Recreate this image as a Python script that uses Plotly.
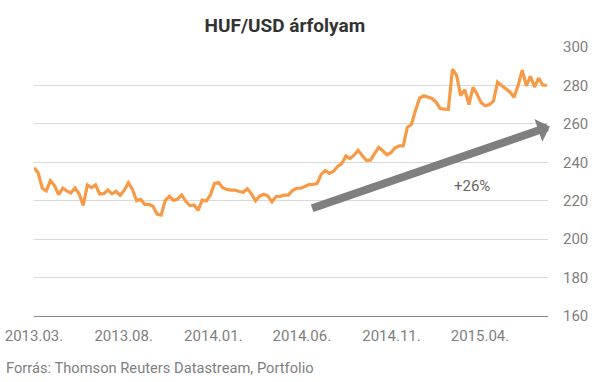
import pandas as pd
import plotly.graph_objects as go

# Weekly observations starting 2013-03-01
start_date = "2013-03-01"
rate = [
    237.2, 234.5, 226.5, 225.1, 230.5, 227.9, 223.2, 226.5, 225.1, 224.0,
    226.6, 223.5, 217.5, 228.1, 226.8, 228.2, 223.5, 223.7, 225.6, 223.6,
    224.9, 222.8, 225.5, 229.4, 225.9, 220.0, 220.7, 218.1, 218.1, 217.1,
    213.0, 212.5, 220.2, 222.3, 220.2, 220.9, 223.0, 219.7, 217.5, 217.8,
    215.0, 220.3, 219.9, 223.0, 229.0, 229.5, 226.8, 225.9, 225.5, 225.5,
    224.8, 224.4, 226.2, 223.6, 220.0, 222.4, 223.4, 222.4, 219.4, 222.2,
    222.3, 222.9, 222.9, 225.3, 226.5, 226.5, 227.4, 228.4, 228.5, 228.9,
    233.7, 235.7, 234.2, 235.3, 237.8, 239.3, 243.3, 242.0, 243.7, 246.2,
    243.5, 241.0, 241.1, 244.4, 247.8, 246.0, 243.9, 245.0, 247.5, 248.5,
    248.5, 258.2, 259.8, 267.1, 273.4, 274.6, 274.0, 273.2, 271.3, 268.0,
    267.7, 267.6, 288.5, 285.3, 274.7, 277.8, 270.0, 279.0, 275.4, 271.0,
    269.4, 270.0, 271.9, 281.8, 279.9, 278.1, 276.6, 273.8, 279.9, 288.0,
    279.8, 284.8, 279.2, 283.8, 280.2, 280.0,
]
dates = pd.date_range(start_date, periods=len(rate), freq="7D")

tick_dates = ["2013-03-01", "2013-08-01", "2014-01-01", "2014-06-01", "2014-11-01", "2015-04-01"]
tick_labels = ["2013.03.", "2013.08.", "2014.01.", "2014.06.", "2014.11.", "2015.04."]

title_text = "HUF/USD árfolyam"
source_text = "Forrás: Thomson Reuters Datastream, Portfolio"
trend_label = "+26%"
trend_start = ("2014-06-16", 215.8)
trend_end = ("2015-07-29", 258.6)
trend_label_pos = ("2015-03-18", 227.8)

FONT = "Roboto"
GRAY = "#808080"

fig = go.Figure()
fig.add_trace(go.Scatter(
    x=dates, y=rate, mode="lines",
    line=dict(color="#F79A45", width=3.2),
    hoverinfo="skip", showlegend=False,
))

fig.add_annotation(
    x=trend_end[0], y=trend_end[1], ax=trend_start[0], ay=trend_start[1],
    xref="x", yref="y", axref="x", ayref="y",
    text="", showarrow=True, arrowhead=1, arrowsize=0.5, arrowwidth=8,
    arrowcolor="#7F7F7F", standoff=0,
)
fig.add_annotation(
    x=trend_label_pos[0], y=trend_label_pos[1], xref="x", yref="y",
    text=trend_label, showarrow=False,
    font=dict(family=FONT, size=15, color="#666666"),
)
fig.add_annotation(
    x=-0.058, y=-0.1935, xref="paper", yref="paper",
    xanchor="left", yanchor="middle", text=source_text, showarrow=False,
    font=dict(family=FONT, size=14.7, color=GRAY),
)

fig.update_layout(
    width=596, height=382,
    margin=dict(l=34, r=48, t=47, b=66),
    paper_bgcolor="white", plot_bgcolor="white",
    title=dict(
        text="<b>" + title_text + "</b>", x=0.478, xanchor="center",
        y=1 - 25 / 382, yanchor="middle", yref="container",
        font=dict(family=FONT, size=19, color="#333333"),
    ),
    xaxis=dict(
        type="date", range=["2013-03-01", "2015-07-26"],
        tickmode="array", tickvals=tick_dates, ticktext=tick_labels,
        showgrid=False, zeroline=False, showline=True,
        linecolor="#898989", linewidth=1, ticks="",
        tickfont=dict(family=FONT, size=15, color=GRAY),
        ticklabelstandoff=6, automargin=False,
    ),
    yaxis=dict(
        side="right", range=[160, 300], dtick=20, tick0=160,
        showgrid=True, gridcolor="#D9D9D9", gridwidth=1,
        zeroline=False, showline=False, ticks="",
        tickfont=dict(family=FONT, size=15, color=GRAY),
        ticklabelstandoff=14, automargin=False,
    ),
)

fig.write_html(
    "out.html",
    config={"displayModeBar": False},
    post_script="document.body.style.margin='0';document.body.style.overflow='hidden';",
)
